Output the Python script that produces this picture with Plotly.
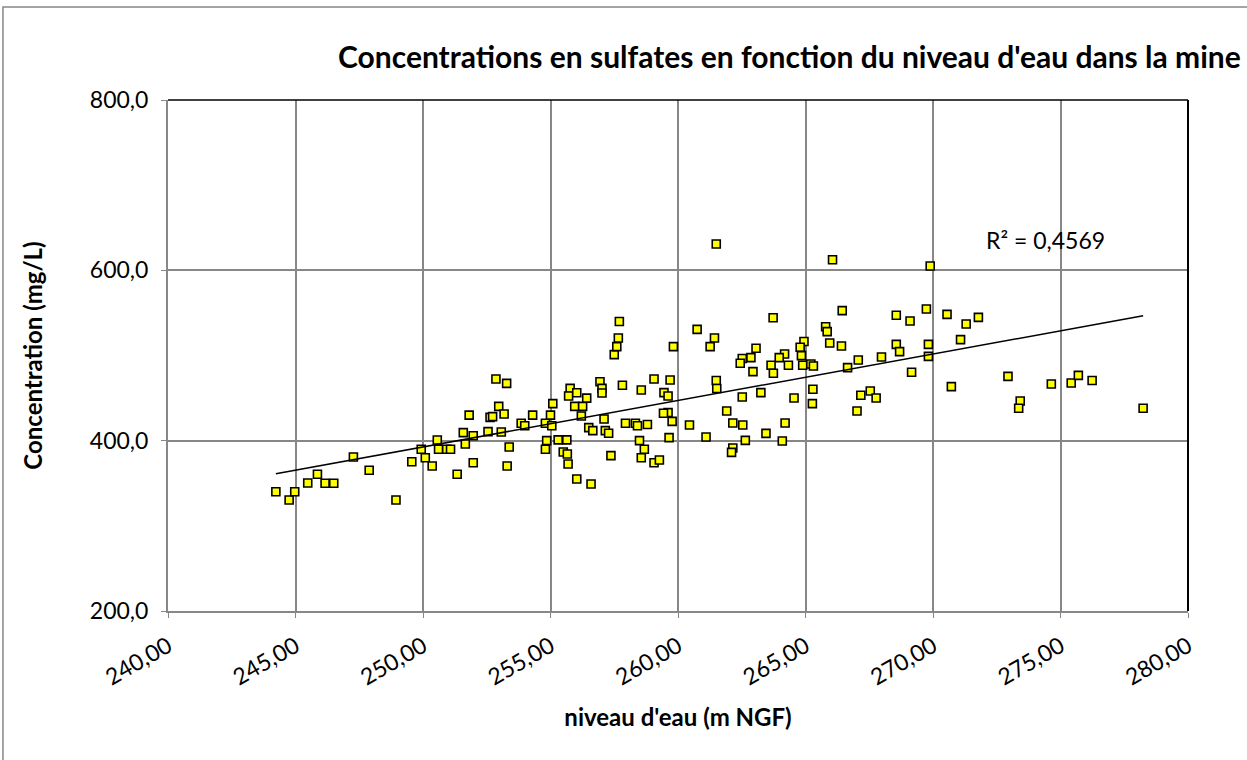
import numpy as np
import plotly.graph_objects as go

# niveau d'eau (m NGF)
niveau = [
    244.23, 244.75, 244.97, 245.48, 245.86, 246.16, 246.50, 247.27, 247.89, 248.94,
    249.56, 249.93, 250.09, 250.36, 250.56, 250.61, 250.93, 251.08, 251.34, 251.58,
    251.66, 251.81, 251.97, 251.97, 252.55, 252.63, 252.73, 252.86, 252.97, 253.07,
    253.18, 253.28, 253.30, 253.38, 253.85, 253.99, 254.30, 254.80, 254.85, 254.80,
    255.00, 255.05, 255.09, 255.30, 255.64, 255.50, 255.66, 255.69, 255.77, 255.71,
    256.03, 255.95, 256.26, 256.21, 256.42, 256.03, 256.50, 256.66, 256.59, 256.94,
    257.02, 257.02, 257.10, 257.15, 257.28, 257.37, 257.50, 257.60, 257.66, 257.70,
    257.82, 257.94, 258.33, 258.41, 258.49, 258.56, 258.68, 258.80, 258.56, 259.06,
    259.06, 259.27, 261.50, 266.06, 259.82, 260.75, 261.43, 261.26, 263.73, 266.44,
    268.56, 269.10, 265.79, 265.85, 265.95, 266.41, 268.56, 268.69, 267.98, 267.07,
    266.65, 269.16, 264.94, 264.79, 264.84, 264.89, 265.21, 265.31, 264.18, 263.97,
    264.33, 263.65, 263.74, 263.06, 262.86, 262.52, 262.44, 262.94, 259.69, 261.50,
    261.52, 259.45, 259.61, 262.52, 263.25, 264.55, 265.29, 265.27, 259.61, 259.43,
    259.77, 260.45, 261.91, 262.15, 262.54, 264.20, 263.45, 259.65, 261.10, 262.64,
    264.09, 262.15, 262.10, 267.02, 267.17, 267.54, 267.77, 269.89, 269.74, 270.55,
    271.30, 271.78, 271.08, 269.82, 269.82, 270.72, 272.94, 273.42, 273.36, 274.64,
    275.42, 275.70, 276.24, 278.24,
]

# concentration en sulfates (mg/L)
sulfates = [
    340.1, 330.3, 340.0, 350.3, 360.5, 350.0, 350.0, 380.8, 365.2, 330.3,
    375.3, 390.0, 380.0, 370.2, 400.8, 390.0, 390.0, 390.0, 360.5, 409.4,
    396.0, 430.0, 405.8, 374.0, 410.6, 427.4, 428.2, 472.4, 440.3, 410.2,
    431.3, 467.3, 370.2, 392.5, 420.4, 417.6, 430.0, 390.0, 400.0, 420.4,
    430.0, 417.6, 443.5, 400.9, 400.9, 386.7, 384.3, 372.6, 461.4, 452.4,
    456.3, 440.3, 440.3, 429.0, 450.0, 355.0, 415.3, 411.8, 349.1, 469.2,
    461.4, 456.0, 425.4, 411.8, 408.7, 382.4, 501.0, 510.4, 520.5, 540.0,
    465.0, 420.4, 420.4, 417.6, 400.0, 459.5, 390.0, 419.0, 380.0, 472.4,
    374.0, 377.3, 630.9, 612.5, 510.4, 530.7, 520.5, 510.4, 544.4, 552.7,
    547.2, 540.5, 533.8, 528.0, 514.7, 511.1, 513.1, 504.6, 498.2, 494.7,
    485.8, 480.4, 516.5, 509.7, 499.9, 488.5, 490.0, 487.7, 501.8, 497.5,
    488.5, 488.5, 479.1, 508.5, 497.5, 496.4, 490.9, 481.1, 471.3, 470.6,
    461.2, 456.4, 452.5, 451.3, 456.4, 450.1, 460.3, 443.5, 432.9, 432.2,
    422.7, 418.4, 434.8, 420.7, 418.4, 420.7, 408.6, 403.6, 404.3, 400.4,
    399.6, 391.4, 386.3, 434.8, 453.3, 458.4, 450.1, 605.1, 554.6, 548.3,
    537.0, 544.8, 518.6, 513.1, 499.0, 463.5, 475.5, 446.6, 438.0, 466.5,
    467.7, 476.7, 470.6, 438.0,
]

x_ticks = [240, 245, 250, 255, 260, 265, 270, 275, 280]
y_ticks = [200, 400, 600, 800]
r2_label = "R² = 0,4569"

xa = np.array(niveau)
ya = np.array(sulfates)
slope, intercept = np.polyfit(xa, ya, 1)
xl = np.array([xa.min(), xa.max()])
yl = slope * xl + intercept

FONT = "Lato, Carlito, Calibri, sans-serif"

fig = go.Figure()
fig.add_trace(go.Scatter(
    x=niveau, y=sulfates, mode="markers",
    marker=dict(symbol="square", size=8, color="#FFFF00",
                line=dict(color="#000000", width=1.6)),
    showlegend=False, hoverinfo="x+y",
))
fig.add_trace(go.Scatter(
    x=xl, y=yl, mode="lines", line=dict(color="#000000", width=1.5),
    showlegend=False, hoverinfo="skip",
))

fig.update_layout(
    width=1247, height=760,
    margin=dict(l=168, r=59, t=100, b=149),
    paper_bgcolor="white", plot_bgcolor="white",
    separators=", ",
    font=dict(family=FONT, color="#000000"),
    title=dict(
        text="<b>Concentrations en sulfates en fonction du niveau d'eau dans la mine</b>",
        x=0.995, xanchor="right", xref="container", y=0.925, yanchor="middle",
        font=dict(family=FONT, size=30, color="#000000"),
    ),
    xaxis=dict(
        range=[240, 280], tickvals=x_ticks, tickformat=".2f",
        tickangle=-30, tickfont=dict(size=23), ticklabelstandoff=6,
        showgrid=True, gridcolor="#878787", gridwidth=2,
        ticks="outside", ticklen=5, tickcolor="#878787",
        showline=True, linecolor="#878787", linewidth=2,
        zeroline=False,
        title=dict(text="<b>niveau d'eau (m NGF)</b>", font=dict(size=24), standoff=20),
    ),
    yaxis=dict(
        range=[200, 800], tickvals=y_ticks, tickformat=".1f",
        tickfont=dict(size=23), ticklabelstandoff=8,
        showgrid=True, gridcolor="#878787", gridwidth=2,
        ticks="outside", ticklen=5, tickcolor="#878787",
        showline=True, linecolor="#878787", linewidth=2,
        zeroline=False,
        title=dict(text="<b>Concentration (mg/L)</b>", font=dict(size=24), standoff=40),
    ),
    shapes=[
        dict(type="line", xref="paper", yref="paper", x0=0, x1=1, y0=1, y1=1,
             line=dict(color="#000000", width=1.5)),
        dict(type="line", xref="paper", yref="paper", x0=1, x1=1, y0=0, y1=1,
             line=dict(color="#000000", width=2)),
        dict(type="rect", xref="paper", yref="paper",
             x0=-0.1618, x1=1.07, y0=-0.31, y1=1.182,
             line=dict(color="#878787", width=1.5), fillcolor="rgba(0,0,0,0)"),
    ],
    annotations=[
        dict(x=274.4, y=636, xref="x", yref="y", text=r2_label, showarrow=False,
             font=dict(family=FONT, size=23, color="#000000")),
    ],
)

fig.write_html(
    "out.html",
    config={"displayModeBar": False},
    post_script="document.body.style.margin='0';document.body.style.overflow='hidden';",
)
